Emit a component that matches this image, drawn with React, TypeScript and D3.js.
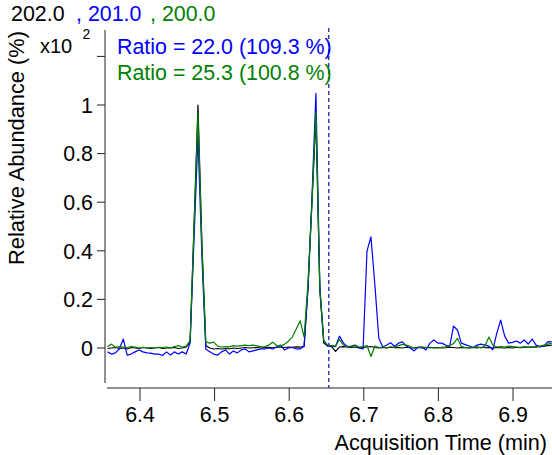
import React from "react";
import * as d3 from "d3";

// Extracted ion chromatograms, m/z 202.0 / 201.0 / 200.0
const START_TIME = 6.35649; // min, first scan
const SCAN_STEP = 0.00527; // min between scans

const mz202: number[] = [
  -0.002, 0.0, 0.002, -0.002, 0.0, -0.004, 0.002, 0.0, -0.002, 0.002,
  0.0, -0.002, 0.0, 0.002, -0.002, 0.0, 0.0, 0.002, -0.002, 0.0,
  0.004, 0.025, 0.5, 1.0, 0.43, 0.01, 0.0, -0.004, -0.002, -0.004,
  -0.002, -0.003, 0.0, -0.002, 0.0, 0.002, 0.0, 0.001, 0.002, 0.0,
  0.002, 0.003, 0.001, 0.003, 0.004, 0.002, 0.004, 0.003, 0.005, 0.004,
  0.006, 0.25, 0.6, 0.95, 0.24, 0.02, 0.008, 0.006, -0.014, 0.004,
  0.006, 0.004, 0.002, 0.004, 0.0, 0.002, 0.004, 0.006, 0.002, 0.0,
  0.002, 0.0, 0.003, 0.001, 0.002, 0.0, 0.003, 0.001, 0.0, 0.002,
  0.0, 0.001, 0.003, 0.0, 0.002, 0.0, 0.001, 0.003, 0.002, 0.0,
  0.002, 0.001, 0.0, 0.002, 0.0, 0.003, 0.001, 0.002, 0.0, 0.002,
  0.001, 0.0, 0.002, 0.0, 0.003, 0.001, 0.002, 0.004, 0.003, 0.005,
  0.006, 0.008, 0.01, 0.012,
];

const mz201: number[] = [
  -0.016, -0.025, -0.02, -0.004, 0.037, -0.029, -0.025, -0.016, -0.008, -0.016,
  -0.02, -0.021, -0.025, -0.025, -0.031, -0.016, -0.029, -0.016, -0.025, -0.016,
  -0.025, 0.02, 0.45, 0.87, 0.38, -0.005, -0.015, -0.025, -0.029, -0.016,
  -0.008, -0.025, -0.012, -0.02, -0.008, -0.004, -0.016, -0.012, -0.008, -0.004,
  -0.004, 0.0, -0.004, 0.004, 0.012, -0.008, 0.0, 0.002, -0.004, -0.004,
  0.008, 0.25, 0.62, 1.048, 0.25, 0.03, 0.008, 0.008, 0.006, 0.049,
  0.02, 0.006, 0.008, 0.012, 0.0, -0.004, 0.4, 0.457, 0.26, 0.04,
  0.004, 0.012, 0.022, 0.006, 0.02, 0.025, 0.008, 0.0, -0.012, 0.004,
  0.004, -0.008, 0.02, 0.033, 0.02, 0.02, 0.012, 0.005, 0.09, 0.074,
  0.02, 0.014, 0.008, 0.002, 0.012, 0.016, 0.012, 0.008, -0.008, 0.06,
  0.115, 0.05, 0.02, 0.023, 0.029, 0.02, 0.033, 0.016, 0.037, 0.012,
  0.005, 0.008, 0.026, 0.025,
];

const mz200: number[] = [
  0.005, 0.016, 0.003, 0.006, 0.004, 0.002, 0.006, 0.004, 0.0, 0.003,
  0.0, 0.002, 0.0, 0.003, 0.002, 0.004, 0.0, 0.006, 0.01, 0.004,
  0.008, 0.03, 0.5, 0.967, 0.42, 0.025, 0.02, 0.024, 0.008, 0.004,
  0.006, 0.005, 0.01, 0.008, 0.01, 0.012, 0.01, 0.012, 0.009, 0.006,
  0.005, 0.012, 0.024, 0.01, 0.008, 0.015, 0.028, 0.045, 0.078, 0.112,
  0.045, 0.27, 0.6, 0.972, 0.24, 0.03, 0.012, 0.01, 0.008, 0.035,
  0.012, 0.004, 0.006, 0.01, 0.004, 0.006, 0.01, -0.035, 0.008, 0.002,
  0.004, 0.0, 0.005, 0.003, 0.01, 0.015, 0.012, 0.006, 0.0, 0.002,
  0.004, 0.003, 0.0, 0.002, 0.0, 0.003, 0.005, 0.01, 0.018, 0.04,
  0.006, 0.002, 0.0, 0.003, 0.006, 0.0, 0.008, 0.045, 0.012, 0.004,
  0.006, 0.004, 0.008, 0.006, 0.004, 0.003, 0.006, 0.003, 0.005, 0.004,
  0.008, 0.012, 0.016, 0.02,
];

const xTicks = [6.4, 6.5, 6.6, 6.7, 6.8, 6.9];
const yTicks = [0, 0.2, 0.4, 0.6, 0.8, 1, 1.2];
const yTickLabels = ["0", "0.2", "0.4", "0.6", "0.8", "1", ""];
const markerTime = 6.653; // dashed reference line
const titleParts = ["202.0", ", 201.0", ", 200.0"];
const ratioLabels = ["Ratio = 22.0 (109.3 %)", "Ratio = 25.3 (100.8 %)"];

const BLACK = "#000000";
const BLUE = "#0000ff";
const GREEN = "#008000";
const FONT = "'Liberation Sans', Arial, sans-serif";
const FS = 21.4;

export default function App() {
  const W = 552;
  const H = 455;
  const x = d3.scaleLinear().domain([6.4, 6.9]).range([140, 513]);
  const y = d3.scaleLinear().domain([0, 1]).range([348, 105]);

  const plotLeft = 105;
  const plotRight = W;
  const axisY = 388;

  const times = mz202.map((_, i) => START_TIME + i * SCAN_STEP);
  const line = d3
    .line<number>()
    .x((_, i) => x(times[i]))
    .y((d) => y(d));

  const series = [
    { data: mz202, color: BLACK },
    { data: mz201, color: BLUE },
    { data: mz200, color: GREEN },
  ];

  return (
    <svg
      width={W}
      height={H}
      style={{ position: "absolute", left: 0, top: 0, display: "block", background: "#fff" }}
      fontFamily={FONT}
    >
      <defs>
        <clipPath id="plot-clip">
          <rect x={plotLeft} y={0} width={plotRight - plotLeft} height={axisY} />
        </clipPath>
      </defs>

      {/* title: ion masses */}
      <text x={11} y={21} fontSize={FS} fill={BLACK}>{titleParts[0]}</text>
      <text x={76} y={21} fontSize={FS} fill={BLUE}>{titleParts[1]}</text>
      <text x={150} y={21} fontSize={FS} fill={GREEN}>{titleParts[2]}</text>

      {/* y axis */}
      <line x1={plotLeft} x2={plotLeft} y1={30} y2={383} stroke="#222" strokeWidth={1} />
      {yTicks.map((t, i) => (
        <g key={t}>
          <line x1={plotLeft - 8} x2={plotLeft} y1={y(t)} y2={y(t)} stroke="#222" strokeWidth={1} />
          {yTickLabels[i] && (
            <text x={93} y={y(t)} dy="0.36em" textAnchor="end" fontSize={FS} fill={BLACK}>
              {yTickLabels[i]}
            </text>
          )}
        </g>
      ))}
      <text x={40} y={52.5} fontSize={20} fill={BLACK}>x10</text>
      <text x={82.5} y={38.5} fontSize={14} fill={BLACK}>2</text>
      <text
        transform={`translate(24, 148) rotate(-90)`}
        textAnchor="middle"
        fontSize={21.8}
        fill={BLACK}
      >
        Relative Abundance (%)
      </text>

      {/* x axis */}
      <line x1={107} x2={plotRight} y1={axisY} y2={axisY} stroke="#222" strokeWidth={1} />
      {xTicks.map((t) => (
        <g key={t}>
          <line x1={x(t)} x2={x(t)} y1={axisY} y2={axisY + 13} stroke="#222" strokeWidth={1} />
          <text x={x(t)} y={422} textAnchor="middle" fontSize={FS} fill={BLACK}>
            {t.toFixed(1)}
          </text>
        </g>
      ))}
      <text x={547} y={450} textAnchor="end" fontSize={21.6} fill={BLACK}>
        Acquisition Time (min)
      </text>

      {/* traces */}
      <g clipPath="url(#plot-clip)">
        {series.map((s, i) => (
          <path key={i} d={line(s.data) ?? ""} fill="none" stroke={s.color} strokeWidth={1.2} strokeLinejoin="round" />
        ))}
      </g>

      {/* dashed marker */}
      <line
        x1={x(markerTime)}
        x2={x(markerTime)}
        y1={28}
        y2={axisY}
        stroke="#3a3aa8"
        strokeWidth={1.5}
        strokeDasharray="4,3"
      />

      {/* qualifier ratios */}
      <text x={117} y={54} fontSize={FS} fill={BLUE}>{ratioLabels[0]}</text>
      <text x={117} y={80} fontSize={FS} fill={GREEN}>{ratioLabels[1]}</text>
    </svg>
  );
}
